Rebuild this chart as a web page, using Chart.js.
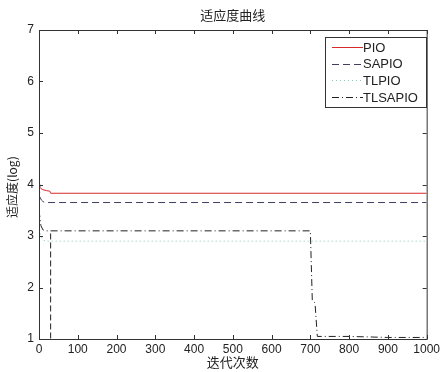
<!DOCTYPE html>
<html>
<head>
<meta charset="utf-8">
<script src="https://cdn.jsdelivr.net/npm/chart.js@4/dist/chart.umd.min.js"></script>
<style>
  html, body { margin: 0; padding: 0; background: #fff; }
  #wrap { width: 443px; height: 372px; }
</style>
</head>
<body>
<div id="wrap"><canvas id="mainChart" width="443" height="372"></canvas></div>
<script>
// data
const seriesNames = ['PIO', 'SAPIO', 'TLPIO', 'TLSAPIO'];
const pioX = [0, 2, 5, 10, 20, 28, 30, 1000];
const pioY = [4.0, 3.95, 3.92, 3.9, 3.88, 3.87, 3.83, 3.83];
const sapioX = [0, 1, 3, 6, 10, 15, 1000];
const sapioY = [4.4, 3.9, 3.75, 3.7, 3.67, 3.65, 3.65];
const tlpioX = [0, 5, 10, 20, 1000];
const tlpioY = [3.2, 3.0, 2.92, 2.9, 2.9];
const tlsapioX = [0, 5, 10, 20, 700, 705, 712, 718, 800, 900, 1000];
const tlsapioY = [3.5, 3.2, 3.12, 3.1, 3.1, 1.75, 1.7, 1.05, 1.05, 1.03, 1.03];
const dropX = [30, 30];
const dropY = [3.05, 1.0];
const xTicks = [0, 100, 200, 300, 400, 500, 600, 700, 800, 900, 1000];
const yTicks = [1, 2, 3, 4, 5, 6, 7];

const pts = (xs, ys) => xs.map((x, i) => ({ x: x, y: ys[i] }));

const matlabBox = {
    id: 'matlabBox',
    afterDraw(chart) {
        const c = chart.ctx, a = chart.chartArea;
        const xs = chart.scales.x, ys = chart.scales.y;
        c.save();
        c.strokeStyle = '#333';
        c.lineWidth = 1;
        c.strokeRect(a.left + 0.5, a.top + 0.5, a.right - a.left, a.bottom - a.top);
        c.beginPath();
        xTicks.forEach(v => {
            const px = Math.round(xs.getPixelForValue(v)) + 0.5;
            c.moveTo(px, a.bottom); c.lineTo(px, a.bottom - 4);
            c.moveTo(px, a.top); c.lineTo(px, a.top + 4);
        });
        yTicks.forEach(v => {
            const py = Math.round(ys.getPixelForValue(v)) + 0.5;
            c.moveTo(a.left, py); c.lineTo(a.left + 4, py);
            c.moveTo(a.right, py); c.lineTo(a.right - 4, py);
        });
        c.stroke();

        // titles
        c.fillStyle = '#222';
        c.textAlign = 'center';
        c.textBaseline = 'middle';
        c.font = '13px "Noto Sans CJK SC"';
        c.fillText('适应度曲线', (a.left + a.right) / 2, 15);
        c.fillText('迭代次数', (a.left + a.right) / 2, 362);
        c.save();
        c.translate(12, 187);
        c.rotate(-Math.PI / 2);
        c.font = '12px "Noto Sans CJK SC"';
        c.fillText('适应度(log)', 0, 0);
        c.restore();

        // legend
        const lx = 325, ly = 37, lw = 101, lh = 70;
        c.fillStyle = '#fff';
        c.fillRect(lx, ly, lw, lh);
        c.strokeStyle = '#333';
        c.strokeRect(lx + 0.5, ly + 0.5, lw, lh);
        c.font = '13px "Liberation Sans"';
        c.textAlign = 'left';
        chart.data.datasets.slice(0, 4).forEach((ds, i) => {
            const y = ly + 10 + i * 16.7;
            c.strokeStyle = ds.borderColor;
            c.setLineDash(ds.borderDash || []);
            c.beginPath();
            c.moveTo(lx + 7, Math.round(y) + 0.5);
            c.lineTo(lx + 38, Math.round(y) + 0.5);
            c.stroke();
            c.setLineDash([]);
            c.fillStyle = '#222';
            c.fillText(ds.label, lx + 38, y + 1);
        });
        c.restore();
    }
};

const baseDs = { borderWidth: 1, pointRadius: 0, tension: 0, fill: false };

new Chart(document.getElementById('mainChart').getContext('2d'), {
    type: 'line',
    data: {
        datasets: [
            { ...baseDs, label: seriesNames[0], data: pts(pioX, pioY), borderColor: '#d62a2a' },
            { ...baseDs, label: seriesNames[1], data: pts(sapioX, sapioY), borderColor: '#3f4060', borderDash: [7, 4] },
            { ...baseDs, label: seriesNames[2], data: pts(tlpioX, tlpioY), borderColor: '#7fd0a8', borderDash: [1, 3] },
            { ...baseDs, label: seriesNames[3], data: pts(tlsapioX, tlsapioY), borderColor: '#222', borderDash: [7, 3, 1, 3] },
            { ...baseDs, label: '', data: pts(dropX, dropY), borderColor: '#222', borderDash: [6, 3] }
        ]
    },
    options: {
        responsive: false,
        animation: false,
        layout: { padding: { left: 0, top: 30, right: 10, bottom: 0 } },
        plugins: { legend: { display: false }, tooltip: { enabled: false } },
        scales: {
            x: {
                type: 'linear', min: 0, max: 1000,
                afterFit: s => { s.height = 33; },
                afterBuildTicks: s => { s.ticks = xTicks.map(v => ({ value: v })); },
                grid: { display: false, drawTicks: false },
                border: { display: false },
                ticks: { color: '#222', padding: 3, maxRotation: 0, callback: v => String(v),
                         font: { size: 12, family: 'Liberation Sans' } }
            },
            y: {
                type: 'linear', min: 1, max: 7,
                afterFit: s => { s.width = 39; },
                afterBuildTicks: s => { s.ticks = yTicks.map(v => ({ value: v })); },
                grid: { display: false, drawTicks: false },
                border: { display: false },
                ticks: { color: '#222', padding: 5, callback: v => String(v),
                         font: { size: 12, family: 'Liberation Sans' } }
            }
        }
    },
    plugins: [matlabBox]
});
</script>
</body>
</html>
